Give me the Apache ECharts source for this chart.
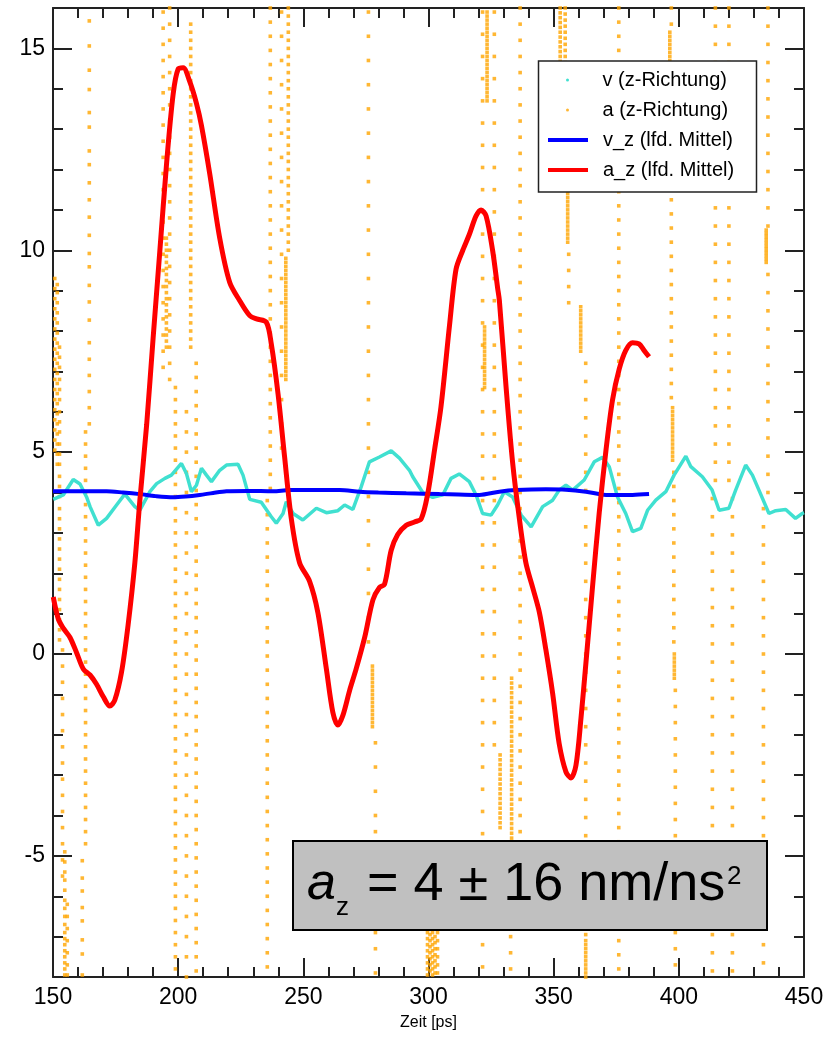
<!DOCTYPE html>
<html>
<head>
<meta charset="utf-8">
<script src="https://cdn.jsdelivr.net/npm/echarts@6/dist/echarts.min.js"></script>
<style>
html,body{margin:0;padding:0;background:#fff;}
#chart{width:836px;height:1037px;}
</style>
</head>
<body>
<div id="chart"></div>
<script>
// ---------- data ----------
const xTickLabels = [150, 200, 250, 300, 350, 400, 450];
const yTickLabels = [-5, 0, 5, 10, 15];

// v (z-Richtung): time [ps], velocity
const vX = [150.1,154.1,158.1,160.8,163.4,164.8,168.1,171.4,175.4,178.7,182.7,184.7,188.7,191.4,194.7,197.3,201.3,203.3,205.3,207.3,209.3,211.3,213.3,216.6,219.3,223.9,225.9,228.6,233.2,237.2,239.2,241.9,243.2,245.9,249.8,255.2,259.2,263.8,266.5,269.8,273.1,276.4,280.4,285.1,288.4,292.4,293.7,297.7,301.7,305.7,309.0,312.3,316.3,319.0,321.6,325.0,327.6,330.3,333.6,337.0,341.0,345.6,349.6,352.2,354.9,357.6,362.2,366.2,369.5,372.2,375.5,378.8,381.5,384.8,387.5,390.8,394.8,398.1,402.8,404.8,409.4,413.3,416.1,420.0,422.7,426.7,429.4,432.0,436.0,438.7,442.7,446.6,449.3,450.0];
const vY = [3.83,3.94,4.32,4.21,3.89,3.65,3.19,3.36,3.69,3.96,3.65,3.56,4.02,4.22,4.35,4.43,4.72,4.47,4.02,4.18,4.60,4.43,4.27,4.55,4.68,4.70,4.43,3.83,3.76,3.40,3.24,3.48,3.77,3.48,3.32,3.61,3.50,3.55,3.69,3.58,4.14,4.76,4.88,5.03,4.85,4.55,4.39,4.00,3.88,3.94,4.35,4.46,4.27,3.94,3.48,3.44,3.69,4.02,3.89,3.44,3.15,3.65,3.81,4.06,4.18,4.06,4.31,4.76,4.87,4.64,3.89,3.48,3.03,3.11,3.56,3.81,4.02,4.43,4.90,4.64,4.39,4.06,3.56,3.61,4.06,4.68,4.43,4.06,3.48,3.55,3.58,3.36,3.48,3.50];

// v_z (lfd. Mittel)
const vzX = [150,160,171.4,178,184.7,191,197.9,203,208.6,214,219.3,228,237.9,244.5,255,264.5,272.5,280,291.1,304.4,312,320.3,328.3,335,346.9,354.9,362.9,370.9,381.5,388.1];
const vzY = [4.03,4.03,4.03,4.00,3.96,3.91,3.88,3.90,3.94,3.99,4.03,4.04,4.03,4.06,4.06,4.06,4.02,4.00,3.98,3.96,3.95,3.94,4.02,4.06,4.08,4.07,4.02,3.94,3.94,3.96];

// a_z (lfd. Mittel)
const azX = [150.1,152.1,154.1,156.8,159.5,162.1,164.8,167.4,170.1,172.7,174.7,177.4,180.0,182.7,184.7,187.4,190.0,192.7,195.4,198.0,200.0,202.0,204.6,207.3,209.3,212.6,216.6,220.6,224.6,228.6,231.3,235.2,237.2,239.9,242.5,245.2,248.5,252.5,255.8,259.2,261.8,263.8,265.8,268.5,271.1,274.5,277.8,280.4,282.4,285.1,287.7,291.1,294.4,297.1,299.7,302.4,305.0,308.4,311.0,313.7,316.3,319.0,321.0,323.0,325.6,327.6,328.3,331.0,333.6,336.3,338.9,341.6,344.3,346.9,349.6,352.2,354.9,356.9,358.9,360.9,362.9,365.5,368.2,370.9,373.5,376.2,378.8,381.5,384.1,386.1,388.1];
const azY = [1.41,0.87,0.64,0.41,0.02,-0.37,-0.52,-0.75,-1.06,-1.29,-1.14,-0.44,0.72,2.26,3.81,5.67,7.83,10.0,12.17,13.87,14.49,14.52,14.18,13.64,13.09,11.9,10.3,9.2,8.75,8.38,8.30,8.22,7.68,6.44,4.89,3.35,2.26,1.80,1.03,-0.37,-1.45,-1.76,-1.52,-0.9,-0.37,0.41,1.34,1.65,1.72,2.57,2.96,3.19,3.27,3.35,3.97,5.05,6.13,8.14,9.53,10.0,10.39,10.85,11.00,10.85,10.0,9.07,8.76,6.60,4.74,3.35,2.26,1.65,1.03,0.10,-0.98,-2.22,-2.92,-3.07,-2.76,-1.60,-0.21,1.65,3.50,5.05,6.29,7.06,7.52,7.71,7.68,7.52,7.36];

// a (z-Richtung): raw samples, grouped in the visible streaks (time of streak, values)
const aStreakX = [150.7,151.7,152.6,153.8,154.7,155.7,164.5,163.0,161.7,194.0,196.6,195.3,198.9,205.0,207.2,203.3,236.8,235.6,241.3,244.0,243.0,276.0,277.6,278.8,299.6,300.6,301.6,302.6,303.6,321.6,323.4,322.4,326.3,328.6,333.2,336.6,332.8,352.6,354.6,355.8,355.6,356.0,360.8,362.8,376.0,396.4,397.0,397.5,398.0,398.2,398.6,414.6,413.4,420.0,421.4,435.6,434.9,433.8];
const aStreakY = [
 [9.3,9.05,8.8,8.55,8.3,8.05,7.8,7.55,7.3,7.05,6.8,6.55,6.3,6.05,5.8,5.55,5.3,5.05],
 [9.15,8.95,8.7,8.45,8.2,7.95,7.7,7.45,7.2,6.95,6.7,6.45,6.2,5.95,5.7,5.45,5.2,4.95,4.7],
 [7.6,7.35,7.1,6.8,6.55,6.3,6.0,5.75,5.5,5.2,4.95,4.7,4.4,4.15,3.9,3.6,3.35,3.1,2.85,2.6,2.35,2.1,1.85,1.6,1.35,1.1,0.85,0.6,0.35],
 [0.1,-0.3,-0.7,-1.1,-1.5,-1.9,-2.3,-2.7,-3.1,-3.5,-3.9,-4.3,-4.7,-5.1,-5.5],
 [-4.9,-5.15,-5.4,-5.6,-5.85,-6.1,-6.3,-6.5,-6.7,-6.9,-7.05,-7.2,-7.35,-7.5,-7.65,-7.8,-7.95],
 [-6.2,-6.5,-6.8,-7.1,-7.4,-7.7,-7.95],
 [15.68,15.06,14.46,13.98,13.41,13.05,12.46,12.12,11.67,11.25,10.82,10.37,9.92,9.59,9.13,8.72,8.27,7.71,7.3,6.9,6.5,6.1,5.7],
 [5.5,5.2,4.9,4.6,4.3,4.0,3.7,3.4,3.1,2.8,2.5,2.2,1.9,1.6,1.3,1.0,0.7,0.4,0.1,-0.2,-0.5,-0.8,-1.1,-1.4,-1.7,-2.0,-2.3,-2.6,-2.9,-3.2,-3.5,-3.8,-4.1,-4.4,-4.7],
 [-5.12,-5.55,-5.87,-6.28,-6.61,-7.08,-7.43,-7.95],
 [15.9,15.5,15.1,14.7,14.3,13.9,13.5,13.1,12.7,12.3,11.9,11.5,11.1,10.7,10.3,9.9,9.5,9.1,8.7,8.3,7.9,7.5,7.1],
 [16.0,15.6,15.2,14.8,14.4,14.0,13.6,13.2,12.8,12.4,12.0,11.6,11.2,10.8,10.4,10.0,9.6,9.2,8.8,8.4,8.0,7.6,7.2,6.8],
 [10.3,10.15,10.0,9.85,9.7,9.55,9.4,9.25,9.1,8.95,8.8,8.65,8.5,8.35,8.2,8.05,7.9,7.75,7.6],
 [6.6,6.3,6.0,5.7,5.4,5.1,4.8,4.5,4.2,3.9,3.6,3.3,3.0,2.7,2.4,2.1,1.8,1.5,1.2,0.9,0.6,0.3,0.0,-0.3,-0.6,-0.9,-1.2,-1.5,-1.8,-2.1,-2.4,-2.7,-3.0,-3.3,-3.6,-3.9,-4.2,-4.5,-4.8,-5.1,-5.4,-5.7,-6.0,-6.3,-6.6,-6.9,-7.2,-7.5,-7.8],
 [15.6,15.4,15.2,15.0,14.8,14.6,14.4,14.2,14.0,13.8,13.6,13.4,13.2,13.0,12.8,12.6,12.4,12.2,12.0,11.8,11.6,11.4,11.2,11.0,10.8,10.6,10.4,10.2,10.0,9.8,9.6,9.4,9.2,9.0,8.8,8.6,8.4,8.2,8.0,7.8,7.6],
 [7.2,6.85,6.5,6.15,5.8,5.45,5.1,4.75,4.4,4.05,3.7,3.35,3.0,2.65,2.3,1.95,1.6,1.25,0.9,0.55,0.2,-0.15,-0.5,-0.85,-1.2,-1.55,-1.9,-2.25,-2.6,-2.95,-3.3,-3.65,-4.0,-4.35,-4.7,-5.05,-5.4,-5.75,-6.1,-6.45,-6.8,-7.15,-7.5,-7.85],
 [6.0,5.5,5.0,4.5,4.0,3.5,3.0,2.5,2.0,1.5,1.0,0.5,0.0,-0.5,-1.0,-1.5,-2.0,-2.5,-3.0,-3.5,-4.0,-4.5,-5.0,-5.5,-6.0,-6.5,-7.0,-7.5,-8.0],
 [16.0,15.65,15.3,14.95,14.6,14.25,13.9,13.55,13.2,12.85,12.5,12.15,11.8,11.45,11.1,10.75,10.4,10.05,9.7,9.35,9.0,8.65,8.3,7.95,7.6,7.25,6.9,6.55,6.2,5.85,5.5,5.15,4.8,4.45,4.1],
 [3.8,3.45,3.1,2.75,2.4,2.05,1.7,1.35,1.0,0.65,0.3,-0.05,-0.4,-0.75,-1.1,-1.45,-1.8,-2.15,-2.5,-2.85,-3.2,-3.55,-3.9,-4.25,-4.6,-4.95,-5.3,-5.65,-6.0,-6.35,-6.7,-7.05,-7.4,-7.75],
 [15.9,15.3,14.7,14.1,13.5,12.9,12.3,11.7,11.1,10.5,9.9,9.3,8.7,8.1,7.5,6.9,6.3,5.7,5.1],
 [16.0,15.8,15.6,15.4,15.2,15.0,14.8,14.6,14.4,14.2,14.0,13.8,13.6,13.4,13.2,13.0,12.8,12.6,12.4,12.2,12.0,11.8,11.6,11.4,11.2,11.0,10.8,10.6,10.4,10.2,10.0],
 [9.8,9.7,9.6,9.5,9.4,9.3,9.2,9.1,9.0,8.9,8.8,8.7,8.6,8.5,8.4,8.3,8.2,8.1,8.0,7.9,7.8,7.7,7.6,7.5,7.4,7.3,7.2,7.1,7.0,6.9,6.8],
 [15.9,15.3,14.7,14.1,13.5,12.9,12.3,11.7,11.1,10.5,9.9,9.3,8.7,8.1,7.5,6.9,6.3,5.7,5.1,4.5,3.9,3.3,2.7,2.1,1.5,0.9,0.3],
 [-0.3,-0.4,-0.5,-0.6,-0.7,-0.8,-0.9,-1.0,-1.1,-1.2,-1.3,-1.4,-1.5,-1.6,-1.7,-1.8],
 [-2.2,-2.8,-3.4,-4.0,-4.4,-5.1,-5.7,-6.3,-6.9,-7.3,-7.9],
 [-6.9,-7.05,-7.2,-7.35,-7.5,-7.65,-7.8,-7.95],
 [-6.95,-7.1,-7.25,-7.4,-7.55,-7.7,-7.85],
 [-6.9,-7.05,-7.2,-7.35,-7.5,-7.65,-7.8,-7.95],
 [-7.0,-7.15,-7.3,-7.45,-7.6,-7.75,-7.9],
 [-6.9,-7.1,-7.3,-7.5,-7.7,-7.9],
 [15.9,15.35,14.8,14.25,13.7,13.15,12.6,12.05,11.5,10.95,10.4,9.85,9.3,8.75,8.2,7.65,7.1,6.55,6.0,5.45,4.9,4.35,3.8,3.25,2.7,2.15,1.6,1.05,0.5,-0.05,-0.6,-1.15,-1.7,-2.25,-2.8,-3.35,-3.9,-4.45,-5.0,-5.55,-6.1,-6.65,-7.2,-7.75],
 [15.9,15.8,15.7,15.6,15.5,15.4,15.3,15.2,15.1,15.0,14.9,14.8,14.7,14.6,14.5,14.4,14.3,14.2,14.1,14.0,13.9,13.8,13.7],
 [8.1,8.0,7.9,7.8,7.7,7.6,7.5,7.4,7.3,7.2,7.1,7.0,6.9,6.8,6.7,6.6],
 [15.9,15.35,14.8,14.25,13.7,13.15,12.6,12.05,11.5,10.95,10.4,9.85,9.3,8.75,8.2,7.65,7.1,6.55,6.0,5.45,4.9,4.35,3.8,3.25,2.7,2.15,1.6,1.05,0.5,-0.05,-0.6,-1.15,-1.7,-2.25],
 [-2.5,-2.62,-2.74,-2.86,-2.98,-3.1,-3.22,-3.34,-3.46,-3.58,-3.7,-3.82,-3.94,-4.06,-4.18,-4.3],
 [-0.6,-0.72,-0.84,-0.96,-1.08,-1.2,-1.32,-1.44,-1.56,-1.68,-1.8,-1.92,-2.04,-2.16,-2.28,-2.4,-2.52,-2.64,-2.76,-2.88,-3.0,-3.12,-3.24,-3.36,-3.48,-3.6,-3.72,-3.84,-3.96,-4.08,-4.2,-4.32,-4.44,-4.56],
 [16.0,15.6,15.2,14.8,14.4,14.0,13.6,13.2,12.8,12.4,12.0,11.6,11.2,10.8,10.4,10.0,9.6,9.2,8.8,8.4,8.0,7.6,7.2,6.8,6.4,6.0,5.6,5.2,4.8,4.4,4.0,3.6,3.2,2.8,2.4,2.0,1.6,1.2,0.8,0.4,0.0,-0.4,-0.8,-1.2,-1.6,-2.0,-2.4,-2.8,-3.2,-3.6,-4.0,-4.4],
 [-7.0,-7.4,-7.8],
 [16.0,15.88,15.76,15.64,15.52,15.4,15.28,15.16,15.04,14.92,14.8,14.68,14.56],
 [16.0,15.85,15.7,15.55,15.4,15.25,15.1,14.95,14.8,14.65,14.5,14.35,14.2,14.05,13.9,13.75,13.6],
 [13.3,12.9,12.5,12.1],
 [11.7,11.6,11.5,11.4,11.3,11.2,11.1,11.0,10.9,10.8,10.7,10.6,10.5,10.4,10.3,10.2],
 [9.9,9.5,9.1,8.7],
 [8.6,8.5,8.4,8.3,8.2,8.1,8.0,7.9,7.8,7.7,7.6,7.5],
 [7.2,6.75,6.3,5.85,5.4,4.95,4.5,4.05,3.6,3.15,2.7,2.25,1.8,1.35,0.9,0.45,0.0,-0.45,-0.9,-1.35,-1.8,-2.25,-2.7,-3.15,-3.6,-4.05,-4.5,-4.95,-5.4,-5.85,-6.3,-6.8,-6.95,-7.1,-7.2,-7.3,-7.4,-7.5,-7.6,-7.7,-7.8,-7.9,-8.0],
 [16.0,15.65,15.3,14.95,14.6,14.25,13.9,13.55,13.2,12.85,12.5,12.15,11.8,11.45,11.1,10.75,10.4,10.05,9.7,9.35,9.0,8.65,8.3,7.95,7.6,7.25,6.9,6.55,6.2,5.85,5.5,5.15,4.8,4.45,4.1,3.75,3.4,3.05,2.7,2.35,2.0,1.65,1.3,0.95,0.6,0.25,-0.1,-0.45,-0.8,-1.15,-1.5,-1.85,-2.2,-2.55,-2.9,-3.25,-3.6,-3.95,-4.3,-4.65,-5.0,-5.35,-5.7,-6.05,-6.4,-6.75,-7.1,-7.45,-7.8],
 [15.4,15.3,15.2,15.1,15.0,14.9,14.8,14.7],
 [16.0,15.6,14.4,14.05,13.7,13.35,13.0,12.65,12.3,11.95,11.6,11.25,10.9,10.55,10.2,9.85,9.5,9.15,8.8,8.45,8.1,7.75,7.4,7.05,6.7,6.35],
 [6.1,6.0,5.9,5.8,5.7,5.6,5.5,5.4,5.3,5.2,5.1,5.0,4.9,4.8],
 [4.5,4.15,3.8,3.45,3.1,2.75,2.4,2.05,1.7,1.35,1.0,0.65,0.3],
 [0.0,-0.1,-0.2,-0.3,-0.4,-0.5,-0.6],
 [-0.9,-1.3,-1.7,-2.1,-2.5,-2.9,-3.3,-3.7,-4.1,-4.5,-4.9,-5.3,-5.7,-6.1,-6.5,-6.9,-7.3,-7.7],
 [16.0,15.55,15.1,14.65,14.2,13.75,13.3,12.85,12.4,11.95,11.5,11.05,10.6,10.15,9.7,9.25,8.8,8.35,7.9,7.45,7.0,6.55,6.1,5.65,5.2,4.75,4.3],
 [3.85,3.4,2.95,2.5,2.05,1.6,1.15,0.7,0.25,-0.2,-0.65,-1.1,-1.55,-2.0,-2.45,-2.9,-3.35,-3.8,-4.25,-4.7,-5.15,-5.6,-6.05,-6.5,-6.95,-7.4,-7.85],
 [16.0,15.55,15.1,14.65,14.2,13.75,13.3,12.85,12.4,11.95,11.5,11.05,10.6,10.15,9.7,9.25,8.8,8.35,7.9,7.45,7.0,6.55,6.1,5.65,5.2,4.75,4.3],
 [3.85,3.4,2.95,2.5,2.05,1.6,1.15,0.7,0.25,-0.2,-0.65,-1.1,-1.55,-2.0,-2.45,-2.9,-3.35,-3.8,-4.25,-4.7,-5.15,-5.6,-6.05,-6.5,-6.95,-7.4,-7.85],
 [16.0,15.55,15.1,14.65,14.2,13.75,13.3,12.85,12.4,11.95,11.5,11.05,10.6,9.4,8.95,8.5,8.05,7.6,7.15,6.7,6.25,5.8,5.35,4.9,4.45,4.0],
 [10.5,10.42,10.34,10.26,10.18,10.1,10.02,9.94,9.86,9.78,9.7],
 [3.6,3.15,2.7,2.25,1.8,1.35,0.9,0.45,0.0,-0.45,-0.9,-1.35,-1.8,-2.25,-2.7,-3.15,-3.6,-4.05,-4.5,-4.95,-5.4,-5.85,-6.3,-6.75,-7.2,-7.65]
];

// ---------- build ----------
const zip = (xs, ys) => xs.map((x, i) => [x, ys[i]]);
const aData = [];
aStreakX.forEach((x, i) => aStreakY[i].forEach(y => aData.push([x, y])));

const FONT = '"Liberation Sans", Arial, Helvetica, sans-serif';
const AX = '#222';

function xAxisCfg(pos, labels) {
  return {
    type: 'value', position: pos, min: 150, max: 450, interval: 50,
    axisLine: { show: true, onZero: false, lineStyle: { color: AX, width: 2 } },
    axisTick: { show: true, inside: true, length: 19, lineStyle: { color: AX, width: 2 } },
    minorTick: { show: true, splitNumber: 5, length: 10, lineStyle: { color: AX, width: 2 } },
    splitLine: { show: false },
    axisLabel: {
      show: labels, fontSize: 23, color: '#000', fontFamily: FONT, margin: 9,
      formatter: v => xTickLabels.includes(v) ? String(v) : ''
    },
    name: labels ? 'Zeit [ps]' : '', nameLocation: 'middle', nameGap: 38,
    nameTextStyle: { fontSize: 16, color: '#000', fontFamily: FONT }
  };
}
function yMajor(pos, labels) {
  return {
    type: 'value', position: pos, min: -8, max: 16, minInterval: 5, maxInterval: 5,
    axisLine: { show: true, onZero: false, lineStyle: { color: AX, width: 2 } },
    axisTick: { show: true, inside: true, length: 19, lineStyle: { color: AX, width: 2 } },
    splitLine: { show: false },
    axisLabel: {
      show: labels, fontSize: 23, color: '#000', fontFamily: FONT, margin: 8,
      formatter: v => yTickLabels.includes(v) ? String(v) : ''
    }
  };
}
function yMinor(pos) {
  return {
    type: 'value', position: pos, min: -8, max: 16, interval: 1,
    axisLine: { show: false },
    axisTick: { show: true, inside: true, length: 10, lineStyle: { color: AX, width: 2 } },
    splitLine: { show: false },
    axisLabel: { show: false }
  };
}

const legendText = { fontSize: 20, color: '#000', fontFamily: FONT, lineHeight: 20, padding: [0, 0, 0, 10] };
function legendCfg(name, top, dot, left) {
  return {
    data: [{ name: name, icon: dot ? 'circle' : 'rect' }], left: left, top: top, padding: 0, itemGap: 0,
    itemWidth: 40, itemHeight: dot ? 3 : 4, z: 10,
    textStyle: legendText, selectedMode: false
  };
}

const chart = echarts.init(document.getElementById('chart'), null, { renderer: 'canvas' });
chart.setOption({
  animation: false,
  backgroundColor: '#fff',
  grid: { left: 53, right: 32, top: 8, bottom: 60, containLabel: false },
  xAxis: [xAxisCfg('bottom', true), xAxisCfg('top', false)],
  yAxis: [yMajor('left', true), yMinor('left'), yMajor('right', false), yMinor('right')],
  legend: [
    legendCfg('v (z-Richtung)', 70, true, 566),
    legendCfg('a (z-Richtung)', 100, true, 566),
    legendCfg('v_z (lfd. Mittel)', 130, false, 548),
    legendCfg('a_z (lfd. Mittel)', 160, false, 548)
  ],
  series: [
    {
      name: 'a (z-Richtung)', type: 'scatter', data: aData, z: 1,
      symbol: 'rect', symbolSize: 3.6, itemStyle: { color: '#FFA500' }, silent: true
    },
    {
      name: 'v (z-Richtung)', type: 'line', data: zip(vX, vY), z: 2,
      symbol: 'none', showSymbol: false,
      lineStyle: { color: '#40E0D0', width: 3.5 }, itemStyle: { color: '#40E0D0' }
    },
    {
      name: 'v_z (lfd. Mittel)', type: 'line', data: zip(vzX, vzY), z: 3, smooth: 0.3,
      symbol: 'none', showSymbol: false, lineStyle: { color: '#0000FF', width: 4 }, itemStyle: { color: '#0000FF' }
    },
    {
      name: 'a_z (lfd. Mittel)', type: 'line', data: zip(azX, azY), z: 4, smooth: 0.3,
      symbol: 'none', showSymbol: false, lineStyle: { color: '#FF0000', width: 5 }, itemStyle: { color: '#FF0000' }
    }
  ],
  graphic: [
    {
      type: 'rect', z: 8,
      shape: { x: 538.5, y: 61, width: 218, height: 131 },
      style: { fill: '#fff', stroke: '#222', lineWidth: 1.5 }
    },
    {
      type: 'group', z: 20, children: [
        { type: 'rect', z: 20, shape: { x: 293, y: 841, width: 474, height: 89 },
          style: { fill: '#C0C0C0', stroke: '#000', lineWidth: 2 } },
        { type: 'text', z: 21, style: { x: 307, y: 885, text: 'a', fontSize: 52, fontStyle: 'italic', fontFamily: FONT, fill: '#000', verticalAlign: 'middle' } },
        { type: 'text', z: 21, style: { x: 336, y: 908, text: 'z', fontSize: 26, fontFamily: FONT, fill: '#000', verticalAlign: 'middle' } },
        { type: 'text', z: 21, style: { x: 367, y: 885, text: '= 4 ± 16 nm/ns', fontSize: 54, fontFamily: FONT, fill: '#000', verticalAlign: 'middle' } },
        { type: 'text', z: 21, style: { x: 727, y: 877, text: '2', fontSize: 26, fontFamily: FONT, fill: '#000', verticalAlign: 'middle' } }
      ]
    }
  ]
});
</script>
</body>
</html>
